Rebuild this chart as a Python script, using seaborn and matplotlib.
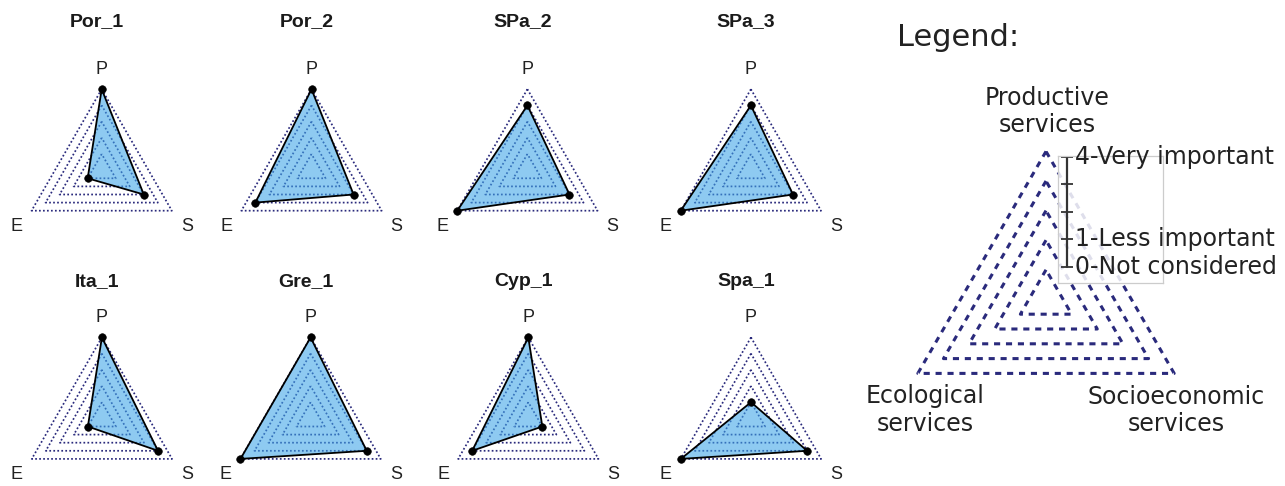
import numpy as np
import pandas as pd
import matplotlib
matplotlib.use("Agg")
import matplotlib.pyplot as plt
import seaborn as sns

# ---------------- data ----------------
sites = ["Por_1", "Por_2", "SPa_2", "SPa_3", "Ita_1", "Gre_1", "Cyp_1", "Spa_1"]
productive = [4, 4, 3, 3, 4, 4, 4, 0]
ecological = [0, 3, 4, 4, 0, 4, 3, 4]
socioeconomic = [2, 2, 2, 2, 3, 3, 0, 3]
axis_labels = ["P", "E", "S"]
grid_levels = [0, 1, 2, 3, 4]
scale_ticks = [0, 1, 2, 3, 4]
scale_label_values = [4, 1, 0]
scale_label_texts = ["4-Very important", "1-Less important", "0-Not considered"]
legend_axis_labels = ["Productive\nservices", "Ecological\nservices", "Socioeconomic\nservices"]

# ---------------- style ----------------
sns.set_theme(style="white")
plt.rcParams["font.family"] = ["DejaVu Sans"]

W, H = 1285, 486
fig = plt.figure(figsize=(W / 100, H / 100), dpi=100)

GRID_COLOR = "#2a2a7c"
FILL_COLOR = "#3da5e8"
ang = np.deg2rad([90, 210, 330])
ang_closed = np.append(ang, ang[0] + 2 * np.pi)
label_ang = np.deg2rad([90, 213.5, 326.5])


def polar_axes(cx, cy, R):
    ax = fig.add_axes([(cx - R) / W, (H - cy - R) / H, 2 * R / W, 2 * R / H],
                      projection="polar")
    ax.set_ylim(-1, 4)
    ax.grid(False)
    ax.set_xticks([])
    ax.set_yticks([])
    ax.spines["polar"].set_visible(False)
    ax.patch.set_alpha(0)
    return ax


def draw_grid(ax, lw, dashes):
    for lev in grid_levels:
        ax.plot(ang_closed, [lev] * 4, color=GRID_COLOR, lw=lw,
                linestyle=(0, dashes), zorder=1, clip_on=False)


# panel centers (pixels)
centers = [(101.7, 170.2), (311.5, 170.2), (527.4, 170.2), (750.9, 170.2),
           (101.9, 418.4), (310.6, 418.4), (528.3, 418.4), (751.0, 418.4)]
R_small = 81

for i, name in enumerate(sites):
    cx, cy = centers[i]
    ax = polar_axes(cx, cy, R_small)
    draw_grid(ax, 1.25, (1.0, 1.3))
    vals = [productive[i], ecological[i], socioeconomic[i]]
    vals_closed = vals + [vals[0]]
    ax.fill(ang_closed, vals_closed, color=FILL_COLOR, alpha=0.58, zorder=2, lw=0,
            clip_on=False)
    df = pd.DataFrame({"theta": ang_closed, "r": vals_closed})
    sns.lineplot(data=df, x="theta", y="r", sort=False, estimator=None,
                 color="black", lw=1.3, ax=ax, zorder=3, clip_on=False)
    sns.scatterplot(data=df.iloc[:3], x="theta", y="r", color="black",
                    s=30, edgecolor="black", ax=ax, zorder=4, clip_on=False)
    ax.set_xlabel("")
    ax.set_ylabel("")
    ax.set_ylim(-1, 4)
    for a, r, lab in zip(label_ang, [5.2, 5.3, 5.3], axis_labels):
        ax.text(a, r, lab, ha="center", va="center", fontsize=13,
                family=["Liberation Sans", "DejaVu Sans"], color="#222222",
                clip_on=False)
    ty = 1.42 if i < 4 else 1.344
    ax.text(0.47, ty, name, transform=ax.transAxes, ha="center", va="center",
            fontsize=14, fontweight="bold", family=["Liberation Sans", "DejaVu Sans"],
            color="#1a1a1a")

# ---------------- legend ----------------
lcx, lcy, R_leg = 1046, 299.4, 148
axl = polar_axes(lcx, lcy, R_leg)
draw_grid(axl, 2.2, (2.0, 1.9))
lpos = [(0.503, 1.135), (0.091, 0.125), (0.939, 0.125)]
for (x, y), lab in zip(lpos, legend_axis_labels):
    axl.text(x, y, lab, transform=axl.transAxes, ha="center", va="center",
             fontsize=17, color="#222222", linespacing=1.2)

fig.text(897 / W, 1 - 38 / H, "Legend:", ha="left", va="center", fontsize=22,
         color="#222222")

# scale box
bx0, bx1, by0, by1 = 1058, 1163, 156, 283
axs = fig.add_axes([bx0 / W, (H - by1) / H, (bx1 - bx0) / W, (by1 - by0) / H])
axs.set_facecolor((1, 1, 1, 0.85))
for sp in axs.spines.values():
    sp.set_color("#cccccc")
    sp.set_linewidth(0.9)
axs.set_xticks([])
axs.set_yticks([])
axs.set_xlim(0, 1)
axs.set_ylim(-0.6, 4.03)
xbar = 0.086
axs.plot([xbar, xbar], [min(scale_ticks), max(scale_ticks)], color="#333333", lw=1.6)
axs.plot([xbar] * len(scale_ticks), scale_ticks, linestyle="none", marker="_",
         markersize=9, mew=1.3, color="#333333")
for v, t in zip(scale_label_values, scale_label_texts):
    axs.text(0.165, v, t, ha="left", va="center", fontsize=17, color="#222222",
             clip_on=False)

fig.savefig("out.png", dpi=100)
